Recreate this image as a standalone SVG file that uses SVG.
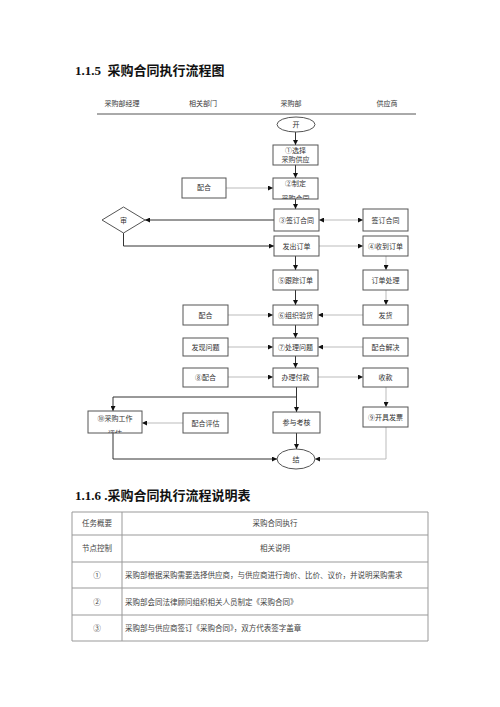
<svg xmlns="http://www.w3.org/2000/svg" width="500" height="707" viewBox="0 0 500 707">
<style>
.h{font-family:"Liberation Serif","Noto Sans CJK SC",serif;font-weight:bold;font-size:13px;fill:#111}
.t{font-family:"Liberation Serif","Noto Sans CJK SC",serif;font-size:7px;fill:#333}
.c{text-anchor:middle}
.b{fill:#fff;stroke:#555;stroke-width:1}
.k{fill:none;stroke:#333;stroke-width:1}
.g{fill:none;stroke:#bbb;stroke-width:1}
.tb{fill:none;stroke:#999;stroke-width:1}
.tt{font-family:"Liberation Serif","Noto Sans CJK SC",serif;font-size:7.5px;fill:#444}
</style>
<defs>
<marker id="a" viewBox="0 0 10 10" refX="10" refY="5" markerWidth="5" markerHeight="5" markerUnits="userSpaceOnUse" orient="auto-start-reverse"><path d="M0,0L10,5L0,10z" fill="#111"/></marker>
<clipPath id="c1"><rect x="273" y="145" width="45" height="20"/></clipPath>
<clipPath id="c2"><rect x="273" y="178" width="45" height="21"/></clipPath>
<clipPath id="c10"><rect x="88" y="411" width="54" height="22"/></clipPath>
</defs>
<rect width="500" height="707" fill="#fff"/>
<text class="h" x="75" y="75">1.1.5&#160;&#160;采购合同执行流程图</text>
<g id="header">
<text class="t c" x="122" y="106">采购部经理</text>
<text class="t c" x="203" y="106">相关部门</text>
<text class="t c" x="291" y="106">采购部</text>
<text class="t c" x="387" y="106">供应商</text>
<line x1="97" y1="114" x2="416" y2="114" stroke="#555" stroke-width="1"/>
</g>
<g id="connectors">
<path class="k" d="M295.5,132V145" marker-end="url(#a)"/>
<path class="k" d="M295.5,165V178" marker-end="url(#a)"/>
<path class="k" d="M295.5,199V209" marker-end="url(#a)"/>
<path class="g" d="M226,188H273" marker-end="url(#a)"/>
<path class="k" d="M274,220H145" marker-end="url(#a)"/>
<path class="g" d="M319,220H363" marker-start="url(#a)" marker-end="url(#a)"/>
<path class="k" d="M123.5,233V246H274" marker-end="url(#a)"/>
<path class="g" d="M319,246H363" marker-end="url(#a)"/>
<path class="k" d="M295.5,256V270" marker-end="url(#a)"/>
<path class="g" d="M386,256V270" marker-end="url(#a)"/>
<path class="k" d="M295.5,290V305" marker-end="url(#a)"/>
<path class="g" d="M386,290V305" marker-end="url(#a)"/>
<path class="g" d="M228,315H273" marker-end="url(#a)"/>
<path class="g" d="M363,315H318" marker-end="url(#a)"/>
<path class="k" d="M295.5,325V338" marker-end="url(#a)"/>
<path class="g" d="M228,347H273" marker-end="url(#a)"/>
<path class="g" d="M363,347H318" marker-end="url(#a)"/>
<path class="k" d="M295.5,356V368" marker-end="url(#a)"/>
<path class="g" d="M228,377H273" marker-end="url(#a)"/>
<path class="g" d="M318,377H363" marker-end="url(#a)"/>
<path class="g" d="M386,387V407" marker-end="url(#a)"/>
<path class="k" d="M296.5,387V412" marker-end="url(#a)"/>
<path class="k" d="M296.5,397H113V411" marker-end="url(#a)"/>
<path class="g" d="M183,423H142" marker-end="url(#a)"/>
<path class="k" d="M296.5,433V449" marker-end="url(#a)"/>
<path class="k" d="M113,433V459H277" marker-end="url(#a)"/>
<path class="g" d="M386,427V459H315" marker-end="url(#a)"/>
</g>
<g id="start"><ellipse class="b" cx="296" cy="124.5" rx="19" ry="7.5"/><text class="t c" x="296" y="127">开</text></g>
<g id="n1"><rect class="b" x="273" y="145" width="45" height="20"/><g clip-path="url(#c1)"><text class="t c" x="295.5" y="153">①选择</text><text class="t c" x="295.5" y="162">采购供应</text><text class="t c" x="295.5" y="171">商</text></g></g>
<g id="n2"><rect class="b" x="273" y="178" width="45" height="21"/><g clip-path="url(#c2)"><text class="t c" x="295.5" y="186">②制定</text><text class="t c" x="295.5" y="201">采购合同</text></g></g>
<g id="p1"><rect class="b" x="182" y="178" width="44" height="20"/><text class="t c" x="204" y="190">配合</text></g>
<g id="n3"><rect class="b" x="274" y="209" width="45" height="22"/><text class="t c" x="296.5" y="222.5">③签订合同</text></g>
<g id="s1"><rect class="b" x="363" y="209" width="45" height="22"/><text class="t c" x="385.5" y="222.5">签订合同</text></g>
<g id="d"><path class="b" d="M102,220L123.5,207L145,220L123.5,233Z"/><text class="t c" x="123.5" y="222.5">审</text></g>
<g id="n4"><rect class="b" x="274" y="236" width="45" height="20"/><text class="t c" x="296.5" y="248.5">发出订单</text></g>
<g id="s2"><rect class="b" x="363" y="236" width="45" height="20"/><text class="t c" x="385.5" y="248.5">④收到订单</text></g>
<g id="n5"><rect class="b" x="273" y="270" width="45" height="20"/><text class="t c" x="295.5" y="282.5">⑤跟踪订单</text></g>
<g id="s3"><rect class="b" x="363" y="270" width="45" height="20"/><text class="t c" x="385.5" y="282.5">订单处理</text></g>
<g id="p2"><rect class="b" x="183" y="305" width="45" height="20"/><text class="t c" x="205.5" y="317.5">配合</text></g>
<g id="n6"><rect class="b" x="273" y="305" width="45" height="20"/><text class="t c" x="295.5" y="317.5">⑥组织验货</text></g>
<g id="s4"><rect class="b" x="363" y="305" width="45" height="20"/><text class="t c" x="385.5" y="317.5">发货</text></g>
<g id="p3"><rect class="b" x="183" y="338" width="45" height="18"/><text class="t c" x="205.5" y="349.5">发现问题</text></g>
<g id="n7"><rect class="b" x="273" y="338" width="45" height="18"/><text class="t c" x="295.5" y="349.5">⑦处理问题</text></g>
<g id="s5"><rect class="b" x="363" y="338" width="45" height="18"/><text class="t c" x="385.5" y="349.5">配合解决</text></g>
<g id="p4"><rect class="b" x="183" y="368" width="45" height="19"/><text class="t c" x="205.5" y="380">⑧配合</text></g>
<g id="n8"><rect class="b" x="273" y="368" width="45" height="19"/><text class="t c" x="295.5" y="380">办理付款</text></g>
<g id="s6"><rect class="b" x="363" y="368" width="45" height="19"/><text class="t c" x="385.5" y="380">收款</text></g>
<g id="m1"><rect class="b" x="88" y="411" width="54" height="22"/><g clip-path="url(#c10)"><text class="t c" x="115" y="421">⑩采购工作</text><text class="t c" x="115" y="436">评估</text></g></g>
<g id="p5"><rect class="b" x="183" y="413" width="45" height="20"/><text class="t c" x="205.5" y="425.5">配合评估</text></g>
<g id="n9"><rect class="b" x="273" y="412" width="47" height="21"/><text class="t c" x="296.5" y="425">参与考核</text></g>
<g id="s7"><rect class="b" x="363" y="407" width="45" height="20"/><text class="t c" x="385.5" y="419.5">⑨开具发票</text></g>
<g id="end"><ellipse class="b" cx="296" cy="459" rx="19" ry="10"/><text class="t c" x="296" y="461.5">结</text></g>
<text class="h" x="75" y="500">1.1.6 .采购合同执行流程说明表</text>
<g id="table">
<path class="tb" d="M72,512H428V641H72Z M122,512V641 M72,535H428 M72,562H428 M72,588H428 M72,615H428"/>
<text class="tt c" x="97" y="526">任务概要</text>
<text class="tt c" x="275" y="526">采购合同执行</text>
<text class="tt c" x="97" y="551">节点控制</text>
<text class="tt c" x="275" y="551">相关说明</text>
<text class="tt c" x="97" y="578" font-size="9">①</text>
<text class="tt" x="125" y="578">采购部根据采购需要选择供应商，与供应商进行询价、比价、议价，并说明采购需求</text>
<text class="tt c" x="97" y="605" font-size="9">②</text>
<text class="tt" x="125" y="605">采购部会同法律顾问组织相关人员制定《采购合同》</text>
<text class="tt c" x="97" y="631" font-size="9">③</text>
<text class="tt" x="125" y="631">采购部与供应商签订《采购合同》，双方代表签字盖章</text>
</g>
</svg>
